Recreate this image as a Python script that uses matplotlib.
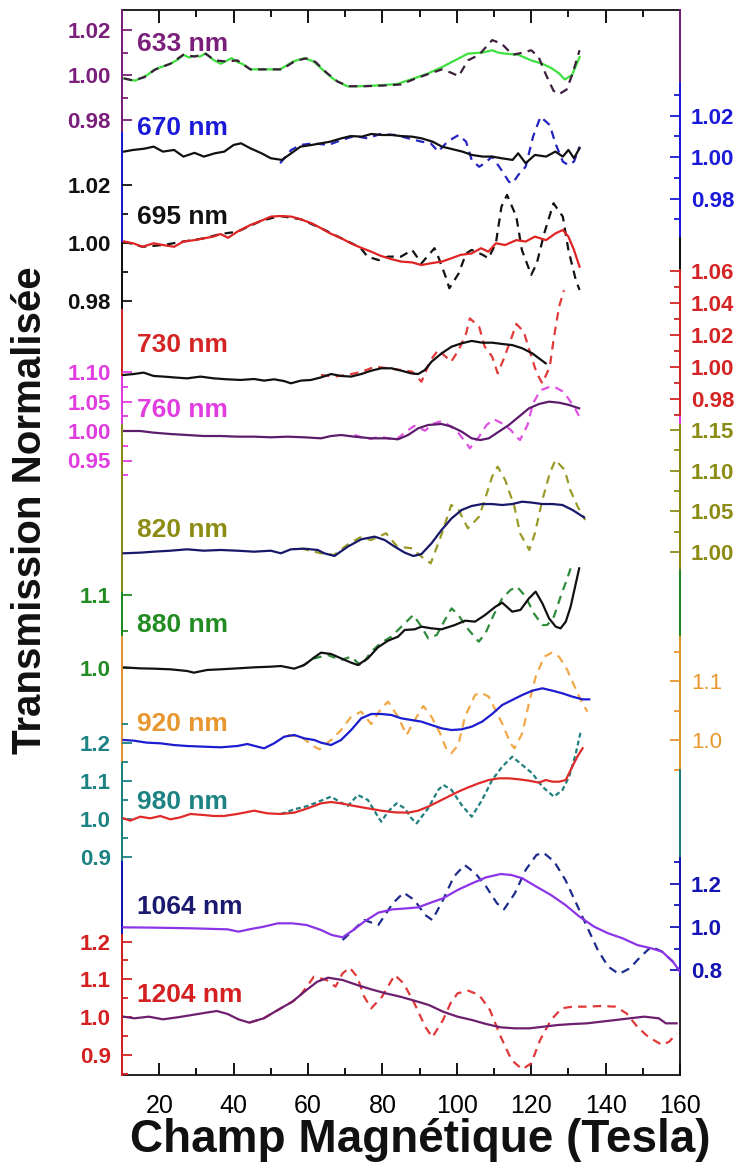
import matplotlib
matplotlib.use('Agg')
import matplotlib.pyplot as plt

plt.rcParams['font.family'] = ['Liberation Sans', 'DejaVu Sans']

# ---- data: field (Tesla) and normalised transmission ----
# 633 nm
t633_s = [10.5, 12, 13.5, 15, 17, 18.5, 20.5, 23, 25, 26.5, 28, 29.5, 31, 32.5, 34.5, 36.5, 38, 39.5, 41, 42.5,
          44.5, 48, 52.5, 56, 59, 61.5, 64.5, 67, 70.5, 74, 77, 80, 84, 88.5, 92, 96, 99.5, 103, 107, 109.5,
          111, 113, 116.5, 120, 123, 125.5, 127.5, 129, 131, 133]
v633_s = [0.9985, 0.9978, 0.9975, 0.9985, 1.0002, 1.0022, 1.0035, 1.005, 1.0068, 1.009, 1.0078, 1.0085, 1.0082,
          1.0096, 1.0068, 1.005, 1.0062, 1.0075, 1.0058, 1.0048, 1.0025, 1.0025, 1.0025, 1.006, 1.0075, 1.006,
          1.0015, 0.998, 0.995, 0.995, 0.9952, 0.9955, 0.996, 0.9985, 1.0005, 1.0035, 1.0065, 1.0095, 1.0100,
          1.0110, 1.0100, 1.0095, 1.009, 1.0065, 1.005, 1.003, 1.0007, 0.998, 1.000, 1.008]
t633_d = [10.5, 13, 16, 19, 23, 26.5, 29.5, 32.5, 35, 38, 41, 44.5, 49, 53, 56.5, 59.5, 62, 65, 68, 71, 75, 80,
          85, 89, 93, 96, 98.5, 100.5, 103, 106, 109.5, 112, 115, 118, 120, 122, 124, 126, 127.5, 129.5, 131, 133]
v633_d = [0.9985, 0.9976, 0.999, 1.0025, 1.005, 1.009, 1.0082, 1.0094, 1.0065, 1.006, 1.0065, 1.0025, 1.0025,
          1.0025, 1.0062, 1.0074, 1.0058, 1.001, 0.997, 0.995, 0.995, 0.9953, 0.9958, 0.9985, 1.0008, 1.0025,
          1.001, 0.9995, 1.0065, 1.009, 1.0155, 1.014, 1.009, 1.010, 1.011, 1.008, 1.000, 0.993, 0.9915, 0.9935,
          1.000, 1.011]

# 670 nm
t670_s = [10.5, 13, 16, 18.5, 21, 24, 26.5, 29.5, 32, 35, 37.5, 40, 42, 44.5, 47.5, 50, 53, 55.5, 58, 61, 63.5,
          66, 69, 71.5, 74.5, 77, 80, 82.5, 85, 88, 90.5, 93.5, 96, 99, 101.5, 104, 107, 109.5, 112, 115, 116.5,
          118.5, 121, 124, 126.5, 128.5, 130, 131.5, 133]
v670_s = [1.0026, 1.0034, 1.004, 1.005, 1.0026, 1.0034, 1.0002, 1.002, 1.0002, 1.0018, 1.0026, 1.0058, 1.0066,
          1.0042, 1.0018, 0.9994, 0.9986, 1.0018, 1.005, 1.0058, 1.0066, 1.0074, 1.009, 1.0101, 1.0098, 1.0111,
          1.0106, 1.0106, 1.0101, 1.0098, 1.009, 1.0074, 1.005, 1.0037, 1.0026, 1.001, 1.0002, 1.0002, 0.9994,
          0.9986, 1.0018, 0.997, 1.001, 1.0002, 1.0026, 1.0002, 1.0034, 0.9994, 1.0042]
t670_d = [52.5, 55.5, 58, 61.5, 65.5, 69, 72.5, 76, 79.5, 83.5, 87, 90.5, 93, 95, 97.5, 100.5, 102.5, 104, 106,
          107.5, 109.5, 112, 114, 115, 116.5, 118.5, 120.5, 122.5, 125, 126.5, 128.5, 130, 131.5, 133]
v670_d = [0.997, 1.0034, 1.0058, 1.0066, 1.0058, 1.0082, 1.0101, 1.009, 1.0111, 1.0106, 1.009, 1.0074, 1.0066,
          1.0026, 1.0074, 1.0106, 1.0074, 0.9986, 0.9953, 0.997, 1.0002, 0.9937, 0.9881, 0.9873, 0.9913, 0.9953,
          1.0098, 1.0194, 1.0154, 1.0066, 0.9978, 0.9961, 0.9978, 1.005]

# 695 nm
t695_s = [10.5, 13, 15.5, 18.5, 21, 24, 26.5, 29.5, 32, 34.5, 36.5, 38.5, 41, 44.5, 47.5, 50, 52.5, 55.5, 58, 61,
          63.5, 66, 69, 71.5, 74, 77, 79.5, 82.5, 85, 88, 90.5, 93, 96, 98.5, 101, 104, 106.5, 108.5, 110.5, 113,
          116, 118.5, 121, 124, 126.5, 128.5, 130, 131.5, 133]
v695_s = [1.0005, 0.9999, 0.9987, 0.9999, 0.9993, 0.9987, 1.0005, 1.001, 1.0016, 1.0022, 1.0031, 1.0018, 1.0039,
          1.0062, 1.0077, 1.0091, 1.0093, 1.0091, 1.0082, 1.0068, 1.0051, 1.0033, 1.0016, 0.9999, 0.9985, 0.997,
          0.9956, 0.9944, 0.9936, 0.9933, 0.9924, 0.993, 0.9936, 0.9947, 0.9959, 0.9964, 0.9982, 0.997, 0.9999,
          0.9993, 1.001, 1.0005, 1.0022, 1.001, 1.0033, 1.0045, 1.0022, 0.9976, 0.9918]
t695_d = [10.5, 15.5, 21, 26.5, 32, 36.5, 41, 47.5, 52.5, 58, 63.5, 69, 74, 76, 79, 81.5, 85, 88, 90.5, 94, 95,
          97, 98, 100.5, 102.5, 104, 107, 108.5, 110.5, 112, 113.5, 116, 117.5, 120, 121.5, 123.5, 126, 128.5,
          130, 132, 133]
v695_d = [1.0005, 0.9987, 0.9993, 1.0005, 1.0016, 1.0031, 1.0039, 1.0077, 1.0093, 1.0082, 1.0051, 1.0016, 0.9985,
          0.9953, 0.9941, 0.9953, 0.9953, 0.9976, 0.993, 0.9982, 0.9953, 0.9884, 0.9844, 0.9895, 0.9964, 0.9976,
          0.9959, 0.9947, 0.9999, 1.0125, 1.0166, 1.0091, 0.9976, 0.989, 0.993, 1.0033, 1.0137, 1.0091, 0.9976,
          0.9872, 0.9838]

# 730 nm
t730_s = [10.4, 13.1, 15.8, 18.5, 21.2, 23.9, 27.5, 31.1, 34.7, 38.3, 41.9, 45.5, 48.2, 50.9, 53.6, 55.4, 58.1,
          60.8, 63.5, 66.2, 68.9, 71.6, 74.3, 77.0, 79.7, 82.4, 85.1, 87.8, 89.6, 91.4, 93.2, 95.9, 98.6, 101.3,
          104.0, 106.8, 109.5, 112.2, 114.9, 117.6, 120.3, 122.1, 123.9]
v730_s = [0.995, 0.9956, 0.9965, 0.9944, 0.994, 0.9935, 0.9929, 0.994, 0.9929, 0.9923, 0.9919, 0.9925, 0.9915,
          0.9923, 0.9912, 0.9898, 0.9915, 0.9919, 0.9935, 0.9956, 0.9944, 0.994, 0.9956, 0.9977, 0.9992, 0.9992,
          0.9977, 0.996, 0.9956, 0.9981, 1.0033, 1.0085, 1.0127, 1.0148, 1.0163, 1.0152, 1.0152, 1.0144, 1.0137,
          1.0117, 1.0085, 1.0054, 1.0023]
t730_d = [63.5, 67, 70.5, 74.5, 78, 81.5, 85, 88, 90.5, 93, 95, 97, 98.5, 100.5, 102.5, 103.5, 106, 107.5, 109.5,
          111, 112.5, 114.5, 116, 118, 119.5, 121.5, 123, 125, 126, 127.5, 128.8]
v730_d = [0.995, 0.994, 0.995, 0.9971, 1.0002, 0.9992, 0.9981, 0.9971, 0.9908, 1.0044, 1.0106, 1.0065, 1.0033,
          1.0106, 1.021, 1.0304, 1.0252, 1.0127, 1.0065, 0.996, 1.0044, 1.0169, 1.0269, 1.0221, 1.0106, 0.996,
          0.9898, 1.0002, 1.0169, 1.0377, 1.048]

# 760 nm
t760_s = [10.4, 14.9, 18.5, 23.0, 27.5, 32.0, 36.5, 41.0, 45.5, 50.0, 54.5, 59.0, 63.5, 66.2, 68.9, 72.5, 77.0,
          81.5, 84.2, 86.9, 89.6, 92.3, 95.9, 98.6, 101.3, 104.0, 106.3, 108.6, 111.3, 114.0, 116.7, 119.4, 122.1,
          124.8, 127.5, 130.2, 132.9]
v760_s = [1.0, 1.0, 0.9972, 0.9949, 0.9932, 0.9915, 0.9915, 0.9904, 0.9904, 0.9893, 0.9904, 0.9893, 0.9876,
          0.9915, 0.9932, 0.9904, 0.9876, 0.9876, 0.9859, 0.9932, 1.0045, 1.0102, 1.0119, 1.0073, 0.9989, 0.9876,
          0.9847, 0.9876, 0.9989, 1.0102, 1.0243, 1.0384, 1.0458, 1.0497, 1.048, 1.0441, 1.0384]
t760_d = [72.5, 76, 79.5, 83.5, 86, 88.5, 91.5, 93.5, 96, 98.5, 100.5, 102.5, 103.5, 106, 108, 110, 112.5, 114.5,
          116, 117, 119, 120.5, 122.5, 125, 126.5, 128.5, 130, 132, 133.3]
v760_d = [0.9932, 0.9859, 0.9904, 0.9847, 0.997, 1.0085, 1.0006, 1.0119, 1.017, 1.0073, 0.996, 0.980, 0.9706,
          0.9904, 1.0102, 1.0198, 1.0119, 1.0017, 0.9904, 0.9847, 1.0102, 1.047, 1.069, 1.075, 1.074, 1.067,
          1.055, 1.036, 1.019]

# 820 nm
t820_s = [10.4, 14.9, 18.5, 23.0, 27.5, 32.0, 36.5, 41.0, 45.5, 50.0, 52.7, 55.4, 59.0, 62.6, 64.4, 67.1, 70.7,
          74.3, 77.9, 80.6, 83.3, 86.0, 88.3, 90.5, 93.2, 95.9, 98.6, 101.3, 104.0, 106.8, 109.5, 112.2, 114.9,
          117.6, 120.3, 123.0, 125.7, 128.4, 131.1, 134.2]
v820_s = [0.9984, 0.9992, 1.0004, 1.0016, 1.0033, 1.0016, 1.0025, 1.0016, 1.0004, 1.0016, 0.9984, 1.0033, 1.0041,
          1.0025, 0.9984, 0.9951, 1.0066, 1.0156, 1.0189, 1.0148, 1.0066, 0.9992, 0.9951, 0.9975, 1.0107, 1.0271,
          1.0414, 1.0517, 1.0566, 1.059, 1.059, 1.0578, 1.059, 1.0619, 1.0607, 1.059, 1.059, 1.0578, 1.0517, 1.0426]
t820_d = [58, 63.5, 67, 70.5, 74, 77, 81, 84, 88, 90.5, 93, 96, 98.5, 100.5, 103, 106, 107.5, 109.5, 111, 113,
          115.5, 117, 119.5, 121, 123, 125, 126.5, 129, 130.5, 132.5, 134.5]
v820_d = [1.0045, 0.9984, 0.9963, 1.0086, 1.018, 1.0148, 1.023, 1.0066, 1.0045, 0.9943, 0.9861, 1.023, 1.0578,
          1.0517, 1.0291, 1.0435, 1.064, 1.0927, 1.105, 1.0886, 1.0558, 1.023, 1.0025, 1.023, 1.064, 1.0968,
          1.1132, 1.1009, 1.0763, 1.0558, 1.0394]

# 880 nm
t880_s = [10.4, 14.9, 18.5, 23.0, 27.5, 29.3, 32.9, 36.5, 41.0, 45.5, 50.0, 52.7, 56.3, 59.0, 61.7, 63.5, 66.2,
          68.9, 71.6, 73.4, 76.1, 78.8, 81.5, 84.2, 86.0, 88.7, 90.5, 93.2, 95.9, 99.5, 102.2, 104.9, 107.6, 110.4,
          112.2, 114.9, 117.1, 119.4, 121.2, 123.0, 124.8, 126.6, 127.9, 129.3, 130.6, 132.0, 132.9]
v880_s = [1.0009, 0.9995, 0.9991, 0.9982, 0.9959, 0.9936, 0.9973, 0.9982, 0.9995, 1.0009, 1.0018, 1.0027, 0.9991,
          1.0041, 1.0146, 1.021, 1.0192, 1.0132, 1.0073, 1.0041, 1.0132, 1.0283, 1.0374, 1.0429, 1.0521, 1.053,
          1.0566, 1.0543, 1.053, 1.0589, 1.0648, 1.0635, 1.0726, 1.084, 1.0895, 1.0772, 1.0795, 1.0954, 1.1046,
          1.0886, 1.068, 1.0566, 1.0543, 1.0635, 1.084, 1.116, 1.1365]
t880_d = [58.1, 61.7, 65.3, 68.9, 71.6, 74.3, 77.0, 79.7, 82.4, 85.1, 88.3, 90.5, 92.3, 94.6, 96.8, 98.6, 100.4,
          103.2, 105.9, 107.7, 109.9, 112.2, 114.4, 116.2, 118.5, 120.7, 123.0, 124.3, 126.1, 127.9, 129.7, 130.6]
v880_d = [1.0018, 1.0132, 1.0178, 1.011, 1.0155, 1.0027, 1.0224, 1.0347, 1.0429, 1.0566, 1.0726, 1.0566, 1.0406,
          1.0452, 1.0658, 1.0817, 1.0726, 1.0521, 1.0361, 1.0475, 1.0726, 1.0954, 1.1068, 1.1114, 1.0977, 1.0749,
          1.0589, 1.0589, 1.0703, 1.0977, 1.1228, 1.1365]

# 920 nm
t920_s = [10.4, 13.1, 16.7, 20.3, 23.9, 27.5, 32.0, 36.5, 41.0, 43.7, 46.4, 48.2, 50.9, 53.6, 56.3, 59.0, 61.7,
          63.5, 66.2, 68.9, 71.6, 74.3, 77.0, 79.7, 82.4, 85.1, 87.8, 90.5, 93.2, 95.9, 98.6, 101.3, 104.0, 106.8,
          109.5, 112.2, 114.9, 117.6, 120.3, 123.0, 125.7, 128.4, 131.1, 133.8, 135.6]
v920_s = [1.0, 0.9989, 0.9955, 0.9944, 0.9915, 0.9898, 0.9887, 0.9876, 0.9898, 0.9932, 0.9887, 0.9859, 0.9944,
          1.0056, 1.0085, 1.0028, 1.0, 0.9955, 0.9915, 1.0, 1.0169, 1.0367, 1.0441, 1.0441, 1.0424, 1.0367, 1.0339,
          1.0311, 1.0254, 1.0198, 1.0169, 1.0181, 1.0226, 1.0311, 1.0441, 1.0593, 1.0678, 1.0763, 1.0836, 1.0876,
          1.0836, 1.0791, 1.0734, 1.0689, 1.0689]
t920_d = [54.5, 58.1, 61.7, 63.1, 66.2, 68.9, 71.6, 74.3, 77.0, 79.7, 81.5, 84.2, 86.5, 88.7, 91.0, 93.2, 95.5,
          97.3, 98.5, 100.4, 102.2, 104.9, 106.5, 108.6, 110.4, 112.6, 114.4, 115.5, 117.6, 119.4, 121.2, 123.5,
          125.5, 127.5, 129.7, 131.5, 133.3, 135.1]
v920_d = [1.0085, 1.0056, 0.9887, 0.9842, 1.0, 1.0169, 1.0395, 1.048, 1.0271, 1.0537, 1.065, 1.0395, 1.0085,
          1.0339, 1.0576, 1.0395, 1.0113, 0.9831, 0.9774, 0.9915, 1.0395, 1.0763, 1.0802, 1.0734, 1.0508, 1.0226,
          0.9944, 0.9859, 1.0113, 1.0621, 1.1073, 1.1412, 1.148, 1.1412, 1.1186, 1.0932, 1.0678, 1.048]

# 980 nm
t980_s = [10.4, 12.2, 14.9, 17.6, 20.3, 23.0, 25.7, 28.4, 32.0, 34.7, 37.4, 41.0, 45.5, 49.1, 52.7, 56.3, 59.9,
          63.5, 66.2, 68.9, 72.5, 76.1, 79.7, 83.3, 86.9, 89.6, 92.3, 95.0, 97.7, 100.4, 103.1, 105.9, 108.6, 111.3,
          114.0, 116.7, 119.4, 122.1, 123.9, 125.7, 127.5, 129.3, 130.6, 132.4, 133.8]
v980_s = [1.0018, 0.9956, 1.0061, 1.0018, 1.0079, 0.9991, 1.0044, 1.0132, 1.0105, 1.0079, 1.0079, 1.0132, 1.0219,
          1.0149, 1.0132, 1.0167, 1.0281, 1.0412, 1.0447, 1.0412, 1.0342, 1.0281, 1.0219, 1.0175, 1.0167, 1.0219,
          1.0325, 1.0456, 1.0588, 1.0719, 1.0833, 1.0939, 1.1026, 1.107, 1.107, 1.1044, 1.1009, 1.0956, 1.1026,
          1.0982, 1.0982, 1.1026, 1.1289, 1.164, 1.186]
t980_d = [52.7, 56.3, 59.9, 63.5, 66.2, 68.9, 70.7, 73.4, 76.1, 78.8, 79.7, 81.5, 83.8, 86.0, 87.8, 89.2, 92.3,
          95.0, 96.4, 98.6, 101.3, 104.0, 106.8, 109.5, 112.2, 114.9, 117.6, 120.3, 123.0, 126.1, 128.4, 130.2,
          132.0, 133.3]
v980_d = [1.0132, 1.0254, 1.0342, 1.0482, 1.0588, 1.043, 1.0342, 1.0632, 1.05, 1.0061, 0.993, 1.0193, 1.0412,
          1.0281, 1.0018, 0.9886, 1.0281, 1.0763, 1.0895, 1.0763, 1.0368, 1.0061, 1.05, 1.1026, 1.1377, 1.164,
          1.1421, 1.1202, 1.0851, 1.0588, 1.0763, 1.1114, 1.1728, 1.2298]

# 1064 nm
t1064_s = [10.4, 19.1, 28.8, 38.4, 41.3, 44.2, 48.1, 51.9, 55.8, 59.6, 63.5, 66.4, 69.3, 72.2, 75.1, 78.9, 82.8,
           86.7, 89.6, 92.5, 96.3, 100.2, 104.1, 107.9, 111.8, 114.7, 117.6, 121.4, 125.3, 129.2, 133.0, 136.9,
           140.7, 144.6, 148.5, 152.3, 155.2, 158.1, 160.0]
v1064_s = [0.9985, 0.9969, 0.9939, 0.9892, 0.9785, 0.9892, 1.0015, 1.0169, 1.0169, 1.0092, 0.9862, 0.9631, 0.9524,
           0.9862, 1.0246, 1.066, 1.0814, 1.086, 1.0906, 1.1091, 1.1321, 1.1705, 1.2012, 1.2289, 1.2442, 1.2396,
           1.2243, 1.1859, 1.1475, 1.1014, 1.0476, 1.0015, 0.9708, 0.9478, 0.917, 0.9017, 0.8863, 0.8402, 0.7942]
t1064_d = [69.3, 72.2, 75.1, 78.9, 82.8, 85.7, 88.6, 91.5, 93.4, 96.3, 99.2, 102.1, 105.0, 107.9, 110.8, 112.7,
           115.6, 118.5, 121.4, 123.3, 126.2, 129.2, 132.1, 135.0, 137.9, 140.7, 143.6, 146.5, 149.4, 152.3, 155.2,
           158.1, 160.0]
v1064_d = [0.94, 0.9862, 1.0323, 1.0092, 1.1091, 1.1582, 1.1244, 1.0553, 1.0323, 1.1244, 1.232, 1.2857, 1.2473,
           1.1859, 1.1091, 1.0814, 1.1551, 1.2627, 1.3318, 1.3425, 1.3011, 1.2166, 1.1091, 1.0015, 0.894, 0.8172,
           0.7834, 0.8095, 0.8633, 0.9094, 0.8863, 0.8402, 0.7942]

# 1204 nm
t1204_s = [10.4, 13.3, 17.2, 21.0, 24.9, 28.8, 32.6, 35.5, 38.4, 41.3, 44.2, 48.1, 51.9, 55.8, 59.6, 62.5, 65.4,
           69.3, 73.2, 77.0, 80.9, 84.8, 88.6, 92.5, 96.3, 100.2, 104.1, 107.9, 111.8, 115.6, 119.5, 123.4, 127.2,
           131.1, 135.0, 138.8, 142.7, 146.5, 150.4, 154.3, 156.2, 159.1]
v1204_s = [1.0009, 0.9965, 1.0009, 0.9938, 0.9991, 1.0053, 1.0115, 1.0159, 1.008, 0.9938, 0.985, 0.9965, 1.0186,
           1.0407, 1.0716, 1.0937, 1.1043, 1.0981, 1.0849, 1.0734, 1.0628, 1.0539, 1.0433, 1.0318, 1.0141, 1.0009,
           0.992, 0.9814, 0.9726, 0.9699, 0.9699, 0.9744, 0.9788, 0.9814, 0.9832, 0.9876, 0.992, 0.9965, 1.0009,
           0.9965, 0.9832, 0.9832]
t1204_d = [44.2, 48.1, 51.9, 55.8, 57.7, 61.6, 65.0, 67.4, 69.3, 71.2, 73.2, 75.1, 77.0, 79.9, 83.3, 85.7, 88.6,
           91.5, 93.4, 96.3, 98.3, 100.2, 103.1, 106.0, 108.9, 111.8, 114.7, 117.6, 120.0, 122.4, 125.3, 128.2,
           131.1, 135.0, 138.8, 142.7, 145.6, 148.5, 151.4, 155.2, 157.1, 159.1]
v1204_d = [0.985, 0.9965, 1.0186, 1.0407, 1.0539, 1.107, 1.0981, 1.0805, 1.1158, 1.1309, 1.107, 1.0539, 1.023,
           1.0539, 1.1114, 1.0893, 1.0363, 0.9744, 0.9461, 0.992, 1.0363, 1.0628, 1.0698, 1.0584, 1.0186, 0.9478,
           0.8859, 0.8612, 0.8771, 0.939, 0.992, 1.023, 1.0274, 1.0274, 1.0292, 1.0274, 1.0097, 0.9744, 0.9478,
           0.9257, 0.9346, 0.9567]

x_ticks = [20, 40, 60, 80, 100, 120, 140, 160]

# ---- layout (pixels of the 738x1173 picture) ----
W, H = 738, 1173
LEFT, RIGHT, TOP, BOT = 122, 680, 10, 1075

# label, px of 1.00, px per unit, axis side, colours, ticks, spine segments, label y
layers = [
    dict(label='633 nm', p0=75, s=2250, side='left', col='#7a1f7a', fmt='%.2f',
         major=[0.98, 1.00, 1.02], minor=[0.99, 1.01], lseg=(10, 133), rseg=(10, 83), ly=44,
         t_s=t633_s, v_s=v633_s, t_d=t633_d, v_d=v633_d, c_s='#3ee03e', c_d='#3d1f3d', dash_top=True),
    dict(label='670 nm', p0=157, s=2075, side='right', col='#1a1ad8', fmt='%.2f',
         major=[0.98, 1.00, 1.02], minor=[0.97, 0.99, 1.01, 1.03], lseg=(133, 243), rseg=(83, 238), ly=128,
         t_s=t670_s, v_s=v670_s, t_d=t670_d, v_d=v670_d, c_s='#111111', c_d='#2424c0'),
    dict(label='695 nm', p0=243, s=2900, side='left', col='#111111', fmt='%.2f',
         major=[0.98, 1.00, 1.02], minor=[0.99, 1.01], lseg=(243, 310), rseg=(238, 270), ly=217,
         t_s=t695_s, v_s=v695_s, t_d=t695_d, v_d=v695_d, c_s='#e02424', c_d='#111111'),
    dict(label='730 nm', p0=367, s=1600, side='right', col='#d42424', fmt='%.2f',
         major=[0.98, 1.00, 1.02, 1.04, 1.06], minor=[0.97, 0.99, 1.01, 1.03, 1.05],
         lseg=(310, 377), rseg=(270, 417), ly=345,
         t_s=t730_s, v_s=v730_s, t_d=t730_d, v_d=v730_d, c_s='#111111', c_d='#e23a3a'),
    dict(label='760 nm', p0=431, s=590, side='left', col='#e03ce0', fmt='%.2f',
         major=[0.95, 1.00, 1.05, 1.10], minor=[0.925, 0.975, 1.025, 1.075], lseg=(377, 425), rseg=(417, 425),
         ly=410, t_s=t760_s, v_s=v760_s, t_d=t760_d, v_d=v760_d, c_s='#5c1c6c', c_d='#e050e0'),
    dict(label='820 nm', p0=552, s=813, side='right', col='#8c8c14', fmt='%.2f',
         major=[1.00, 1.05, 1.10, 1.15], minor=[1.025, 1.075, 1.125], lseg=(425, 593), rseg=(425, 570),
         ly=530, t_s=t820_s, v_s=v820_s, t_d=t820_d, v_d=v820_d, c_s='#18186a', c_d='#9a9a28'),
    dict(label='880 nm', p0=668, s=730, side='left', col='#228b22', fmt='%.1f',
         major=[1.0, 1.1], minor=[1.05], lseg=(593, 637), rseg=(570, 637), ly=625,
         t_s=t880_s, v_s=v880_s, t_d=t880_d, v_d=v880_d, c_s='#111111', c_d='#2e8b3a'),
    dict(label='920 nm', p0=740, s=590, side='right', col='#e8962e', fmt='%.1f', light=True,
         major=[1.0, 1.1], minor=[0.95, 1.05, 1.15], lseg=(637, 763), rseg=(637, 770), ly=724,
         t_s=t920_s, v_s=v920_s, t_d=t920_d, v_d=v920_d, c_s='#1c1cd0', c_d='#f0a848'),
    dict(label='980 nm', p0=819, s=380, side='left', col='#1c8282', fmt='%.1f',
         major=[0.9, 1.0, 1.1, 1.2], minor=[0.95, 1.05, 1.15, 1.25], lseg=(763, 862), rseg=(770, 858), ly=802,
         t_s=t980_s, v_s=v980_s, t_d=t980_d, v_d=v980_d, c_s='#e02a2a', c_d='#1f7f7f', short=True),
    dict(label='1064 nm', p0=927, s=217, side='right', col='#1414b4', lab_col='#1a1a70', fmt='%.1f',
         major=[0.8, 1.0, 1.2], minor=[0.9, 1.1, 1.3], lseg=(862, 935), rseg=(858, 975), ly=907,
         t_s=t1064_s, v_s=v1064_s, t_d=t1064_d, v_d=v1064_d, c_s='#8c34e8', c_d='#1c2c8c'),
    dict(label='1204 nm', p0=1017, s=377, side='left', col='#d42020', fmt='%.1f',
         major=[0.9, 1.0, 1.1, 1.2], minor=[0.85, 0.95, 1.05, 1.15], lseg=(935, 1075), rseg=None, ly=995,
         t_s=t1204_s, v_s=v1204_s, t_d=t1204_d, v_d=v1204_d, c_s='#6e1e6e', c_d='#e03838'),
]

fig = plt.figure(figsize=(W / 100, H / 100), dpi=100)
rect = [LEFT / W, 1 - BOT / H, (RIGHT - LEFT) / W, (BOT - TOP) / H]

# main frame with the field axis
ax0 = fig.add_axes(rect)
ax0.set_xlim(10, 160)
ax0.set_ylim(0, 1)
ax0.set_yticks([])
ax0.set_xticks(x_ticks)
ax0.set_xticks([x + 10 for x in x_ticks[:-1]], minor=True)
ax0.tick_params(axis='x', which='both', direction='in', top=True, bottom=True, width=1.3, labelsize=18, pad=14)
ax0.tick_params(axis='x', which='major', length=9)
ax0.tick_params(axis='x', which='minor', length=5)
for sp in ax0.spines.values():
    sp.set_linewidth(1.3)
    sp.set_color('#111111')

for L in layers:
    ax = fig.add_axes(rect, facecolor='none')
    p0, s = L['p0'], L['s']
    px2v = lambda p: 1 + (p0 - p) / s
    ax.set_xlim(10, 160)
    ax.set_ylim(px2v(BOT), px2v(TOP))
    ax.spines['top'].set_visible(False)
    ax.spines['bottom'].set_visible(False)
    for side, seg in (('left', L['lseg']), ('right', L['rseg'])):
        if seg is None:
            ax.spines[side].set_visible(False)
        else:
            ax.spines[side].set_bounds(px2v(seg[1]), px2v(seg[0]))
            ax.spines[side].set_color(L['col'])
            ax.spines[side].set_linewidth(1.4)
    ax.tick_params(axis='x', which='both', bottom=False, top=False, labelbottom=False)
    ax.set_yticks(L['major'])
    ax.set_yticklabels([L['fmt'] % v for v in L['major']])
    ax.set_yticks(L['minor'], minor=True)
    on_left = L['side'] == 'left'
    ax.tick_params(axis='y', which='both', direction='in', left=on_left, right=not on_left,
                   labelleft=on_left, labelright=not on_left, color=L['col'], labelcolor=L['col'],
                   width=1.3, labelsize=16, pad=8)
    ax.tick_params(axis='y', which='major', length=7)
    ax.tick_params(axis='y', which='minor', length=4)
    if not L.get('light'):
        for lbl in ax.get_yticklabels():
            lbl.set_fontweight('bold')

    dash = (2.2, 1.4) if L.get('short') else (3.8, 2.8)
    dz, sz = (3, 2) if L.get('dash_top') else (2, 3)
    ax.plot(L['t_d'], L['v_d'], color=L['c_d'], lw=1.6, dashes=dash, zorder=dz)
    ax.plot(L['t_s'], L['v_s'], color=L['c_s'], lw=1.6, zorder=sz)

    fig.text(137 / W, 1 - L['ly'] / H, L['label'], color=L.get('lab_col', L['col']), fontsize=19,
             fontweight='bold', ha='left', va='center')

fig.text(420 / W, 1 - 1140 / H, 'Champ Magnétique (Tesla)', fontsize=33, fontweight='bold',
         ha='center', va='center', color='#111111')
fig.text(30 / W, 1 - 510 / H, 'Transmission Normalisée', fontsize=29, fontweight='bold',
         rotation=90, ha='center', va='center', color='#111111')

fig.savefig('out.png', dpi=100)
